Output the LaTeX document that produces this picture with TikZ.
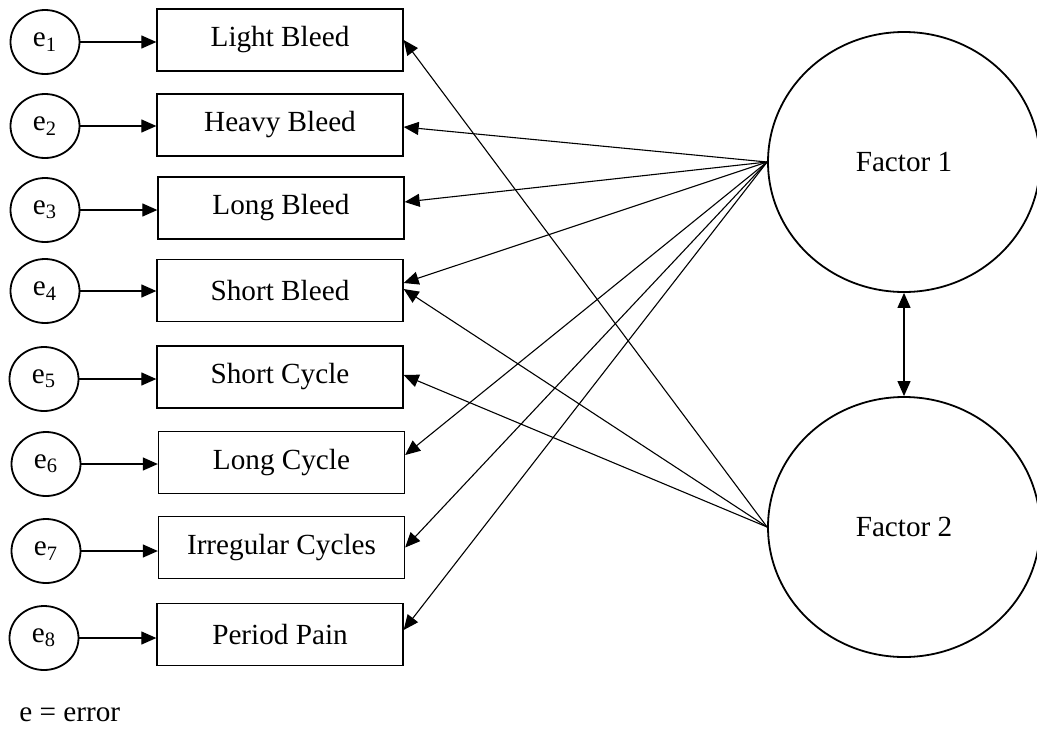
\documentclass[tikz,border=0pt]{standalone}
\usepackage{fontspec}
\setmainfont{Liberation Serif}
\usetikzlibrary{arrows.meta,shapes.geometric}

\tikzset{
  every node/.style={font=\fontsize{14.6}{17}\selectfont},
  errnode/.style={draw, ellipse, line width=0.9pt, minimum width=34.5pt, minimum height=32pt, inner sep=0pt},
  itembox/.style={draw, rectangle, line width=0.65pt, minimum width=123pt, minimum height=31pt, inner sep=0pt},
  factornode/.style={draw, ellipse, line width=0.9pt, minimum width=136pt, minimum height=130pt, inner sep=0pt},
  tip/.style={-{Triangle[length=7.5pt,width=6.5pt]}},
  errarrow/.style={tip, line width=0.6pt},
  loading/.style={tip, line width=0.55pt},
}

\begin{document}
\begin{tikzpicture}[x=0.5pt, y=-0.5pt]
\useasboundingbox (0,0) rectangle (1037,728);

% observed indicators
\node[itembox] (b1) at (280,40)    {Light Bleed};
\node[itembox] (b2) at (280,125)   {Heavy Bleed};
\node[itembox] (b3) at (281,208)   {Long Bleed};
\node[itembox] (b4) at (280,290.5) {Short Bleed};
\node[itembox] (b5) at (280,377)   {Short Cycle};
\node[itembox] (b6) at (281.5,462.5) {Long Cycle};
\node[itembox] (b7) at (281.5,547.5) {Irregular Cycles};
\node[itembox] (b8) at (280,634.5) {Period Pain};

% error terms
\node[errnode] (e1) at (45,42)  {e\textsubscript{1}};
\node[errnode] (e2) at (45,126) {e\textsubscript{2}};
\node[errnode] (e3) at (45,210) {e\textsubscript{3}};
\node[errnode] (e4) at (45,291) {e\textsubscript{4}};
\node[errnode] (e5) at (44,379) {e\textsubscript{5}};
\node[errnode] (e6) at (46,464) {e\textsubscript{6}};
\node[errnode] (e7) at (46,551) {e\textsubscript{7}};
\node[errnode] (e8) at (44,638) {e\textsubscript{8}};

% latent factors
\node[factornode] (f1) at (904,162) {Factor 1};
\node[factornode] (f2) at (904,527) {Factor 2};

% error paths
\foreach \i in {1,...,8}
  \draw[errarrow] (e\i.east) -- (e\i.east -| b\i.west);

% loadings on Factor 1
\draw[loading] (f1.west) -- ([yshift=-1pt]b2.east);
\draw[loading] (f1.west) -- ([yshift=3pt]b3.east);
\draw[loading] (f1.west) -- ([yshift=3.75pt]b4.east);
\draw[loading] (f1.west) -- ([yshift=3.75pt]b6.east);
\draw[loading] (f1.west) -- (b7.east);
\draw[loading] (f1.west) -- ([yshift=2.25pt]b8.east);

% loadings on Factor 2
\draw[loading] (f2.west) -- (b1.east);
\draw[loading] (f2.west) -- ([yshift=0.75pt]b4.east);
\draw[loading] (f2.west) -- ([yshift=1pt]b5.east);

% factor covariance
\draw[{Triangle[length=7.5pt,width=6.5pt]}-{Triangle[length=7.5pt,width=6.5pt]}, line width=0.55pt] (f1.south) -- (f2.north);

% legend
\node[anchor=base west, inner sep=0pt] (legend) at (19,721) {e = error};
\end{tikzpicture}
\end{document}
